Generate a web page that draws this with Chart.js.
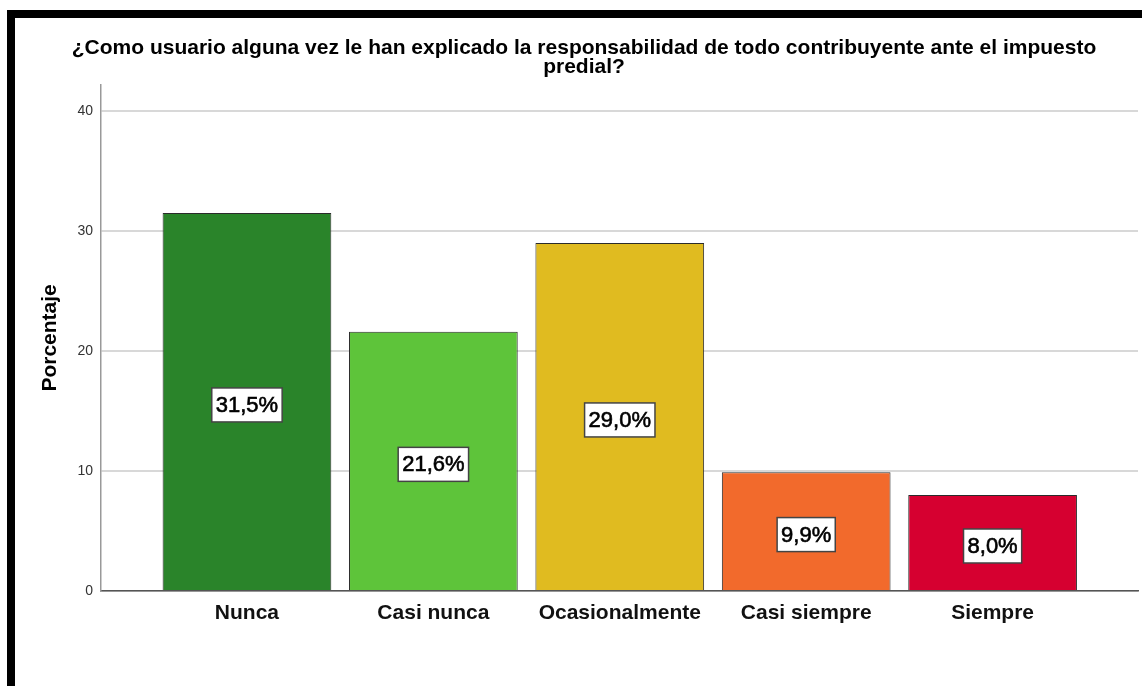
<!DOCTYPE html>
<html>
<head>
<meta charset="utf-8">
<script src="https://cdn.jsdelivr.net/npm/chart.js@4.4.1/dist/chart.umd.min.js"></script>
<style>
    html, body { margin: 0; padding: 0; background: #fff; }
    #wrap { position: relative; width: 1142px; height: 686px; overflow: hidden; }
    #chart { position: absolute; left: 0; top: 0; }
    .frame { position: absolute; background: #000; z-index: 2; }
</style>
</head>
<body>
<div id="wrap">
    <canvas id="chart" width="1142" height="686"></canvas>
    <div class="frame" style="left:7px; top:10px; width:1135px; height:8px;"></div>
    <div class="frame" style="left:7px; top:10px; width:8px; height:676px;"></div>
</div>
<script>
// Data
const categories = ['Nunca', 'Casi nunca', 'Ocasionalmente', 'Casi siempre', 'Siempre'];
const percentages = [31.5, 21.6, 29.0, 9.9, 8.0];
const barColors = ['#2a842a', '#5ec43a', '#e0bb20', '#f26a2c', '#d60030'];
const yTicks = [0, 10, 20, 30, 40];
const chartTitle = ['¿Como usuario alguna vez le han explicado la responsabilidad de todo contribuyente ante el impuesto', 'predial?'];

const fontFamily = '"Liberation Sans", Arial, sans-serif';

// Index positions of the bars on the x axis
const positions = categories.map((_, i) => i);

// Boxed percentage labels in the middle of each bar
const boxLabels = {
    id: 'boxLabels',
    afterDatasetsDraw(chart) {
        const ctx = chart.ctx;
        const meta = chart.getDatasetMeta(0);
        ctx.save();
        ctx.font = '22px ' + fontFamily;
        ctx.textAlign = 'center';
        ctx.textBaseline = 'middle';
        meta.data.forEach((bar, i) => {
            const text = percentages[i].toFixed(1).replace('.', ',') + '%';
            const w = ctx.measureText(text).width + 8;
            const h = 34;
            const cx = bar.x;
            const cy = (bar.y + bar.base) / 2 + 3.5;
            ctx.fillStyle = '#fff';
            ctx.fillRect(cx - w / 2, cy - h / 2, w, h);
            ctx.strokeStyle = '#444';
            ctx.lineWidth = 1.5;
            ctx.strokeRect(cx - w / 2, cy - h / 2, w, h);
            // slightly heavier text, like the original
            ctx.fillStyle = '#000';
            ctx.strokeStyle = '#000';
            ctx.lineWidth = 0.6;
            ctx.fillText(text, cx, cy + 1);
            ctx.strokeText(text, cx, cy + 1);
        });
        ctx.restore();
    }
};

const ctx = document.getElementById('chart').getContext('2d');
new Chart(ctx, {
    type: 'bar',
    data: {
        datasets: [{
            label: 'Porcentaje',
            data: positions.map((p, i) => ({ x: p, y: percentages[i] })),
            backgroundColor: barColors,
            borderColor: '#2b2b2b',
            borderWidth: 1,
            barPercentage: 0.905,
            categoryPercentage: 1
        }]
    },
    options: {
        responsive: false,
        animation: false,
        layout: { padding: { left: 30, right: 4, top: 0, bottom: 45 } },
        plugins: {
            legend: { display: false },
            tooltip: { enabled: false },
            title: {
                display: true,
                text: chartTitle,
                color: '#000',
                font: { family: fontFamily, size: 21, weight: 'bold', lineHeight: 0.9 },
                padding: { top: 39, bottom: 8 }
            }
        },
        scales: {
            x: {
                type: 'linear',
                offset: false,
                min: -0.783,
                max: 4.78,
                afterBuildTicks: (scale) => {
                    scale.ticks = positions.map(p => ({ value: p }));
                },
                afterFit: (scale) => { scale.height = 50; },
                grid: { display: false, drawTicks: false },
                border: { color: '#555', width: 1.5 },
                ticks: {
                    autoSkip: false,
                    maxRotation: 0,
                    padding: 10,
                    color: '#111',
                    font: { family: fontFamily, size: 21, weight: 'bold' },
                    callback: (value) => categories[value]
                }
            },
            y: {
                min: 0,
                max: 42.17,
                afterBuildTicks: (scale) => {
                    scale.ticks = yTicks.map(v => ({ value: v }));
                },
                afterFit: (scale) => { scale.width = 71; },
                grid: { color: '#d8d8d8', lineWidth: 2, drawTicks: false },
                border: { color: '#999', width: 1.5 },
                ticks: {
                    padding: 8,
                    color: '#333',
                    font: { family: fontFamily, size: 14 }
                },
                title: {
                    display: true,
                    text: 'Porcentaje',
                    color: '#000',
                    font: { family: fontFamily, size: 21, weight: 'bold' },
                    padding: { top: 8, bottom: 0 }
                }
            }
        }
    },
    plugins: [boxLabels]
});
</script>
</body>
</html>
